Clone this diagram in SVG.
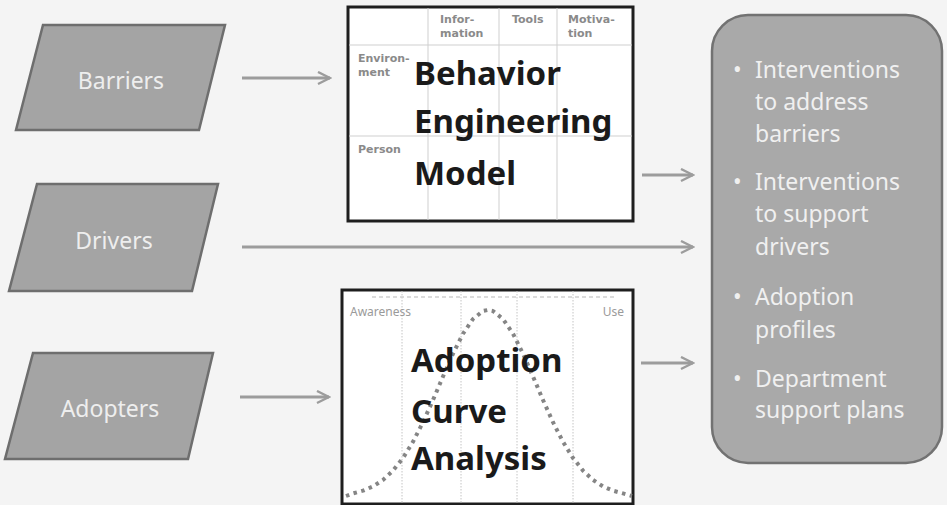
<svg xmlns="http://www.w3.org/2000/svg" width="947" height="505" viewBox="0 0 947 505">
<defs>
<style>
.para{fill:#a4a4a4;stroke:#6e6e6e;stroke-width:2.5}
.lbl{font-family:"Noto Sans","Liberation Sans",sans-serif;font-size:23px;fill:#eeeeee;text-anchor:middle}
.box{fill:#ffffff;stroke:#1e1e1e;stroke-width:3}
.grid{stroke:#cfcfcf;stroke-width:1;fill:none}
.vdot{stroke:#c4c4c4;stroke-width:1;stroke-dasharray:1.5 1.5;fill:none}
.hdr{font-family:"DejaVu Sans",Verdana,sans-serif;font-size:11px;font-weight:bold;fill:#8a8a8a}
.big{font-family:"Noto Sans","Liberation Sans",sans-serif;font-size:33px;font-weight:bold;fill:#1a1a1a}
.sm{font-family:"Noto Sans","Liberation Sans",sans-serif;font-size:12px;fill:#9a9a9a}
.curve{fill:none;stroke:#858585;stroke-width:4;stroke-dasharray:3.5 4.5}
.out{fill:#a9a9a9;stroke:#727272;stroke-width:2.5}
.btxt{font-family:"Noto Sans","Liberation Sans",sans-serif;font-size:23px;fill:#f0f0f0}
.arr{stroke:#9c9c9c;stroke-width:3;fill:none;marker-end:url(#ah)}
</style>
<marker id="ah" viewBox="0 0 10 10" refX="9" refY="5" markerWidth="5" markerHeight="5" markerUnits="strokeWidth" orient="auto">
<path d="M1,1 L9,5 L1,9" fill="none" stroke="#9c9c9c" stroke-width="1.6"/>
</marker>
</defs>
<rect width="947" height="505" fill="#f4f4f4"/>

<g id="barriers">
<polygon class="para" points="43,25 225,25 199,130 16,130"/>
<text class="lbl" x="121" y="89">Barriers</text>
</g>
<g id="drivers">
<polygon class="para" points="37,184 218,184 192,291 9,291"/>
<text class="lbl" x="114" y="249">Drivers</text>
</g>
<g id="adopters">
<polygon class="para" points="33,353 213,353 188,459 5,459"/>
<text class="lbl" x="110" y="417">Adopters</text>
</g>

<g id="bem">
<rect class="box" x="348" y="7" width="285" height="214"/>
<path class="grid" d="M428,8 V220 M499,8 V220 M557,8 V220 M349,45 H632 M349,136 H632"/>
<text class="hdr" x="440" y="23">Infor-</text>
<text class="hdr" x="440" y="37">mation</text>
<text class="hdr" x="512" y="23">Tools</text>
<text class="hdr" x="568" y="23">Motiva-</text>
<text class="hdr" x="568" y="37">tion</text>
<text class="hdr" x="358" y="62">Environ-</text>
<text class="hdr" x="358" y="76">ment</text>
<text class="hdr" x="358" y="153">Person</text>
<text class="big" x="414" y="85">Behavior</text>
<text class="big" x="414" y="133">Engineering</text>
<text class="big" x="414" y="185">Model</text>
</g>

<g id="adoption">
<rect class="box" x="342" y="290" width="291" height="214"/>
<path class="vdot" d="M402,291 V503 M461,291 V503 M517,291 V503 M573,291 V503"/>
<path d="M372,297 H617" stroke="#d0d0d0" stroke-width="1.5" stroke-dasharray="4 3" fill="none"/>
<text class="sm" x="350" y="316">Awareness</text>
<text class="sm" x="624" y="316" text-anchor="end">Use</text>
<polyline class="curve" points="346,496 353,493.4 363,490.7 373,486.4 383,479.9 393,470.6 403,458 413,441.8 423,422.2 433,400 443,376.5 453,353.7 463,333.7 473,319 483,311 488,310 493,311 503,319 513,333.7 523,353.7 533,376.5 543,400 553,422.2 563,441.8 573,458 583,470.6 593,479.9 603,486.4 613,490.7 623,493.4 632,496"/>
<text class="big" x="411" y="372">Adoption</text>
<text class="big" x="411" y="423">Curve</text>
<text class="big" x="411" y="470">Analysis</text>
</g>

<g id="outcomes">
<rect class="out" x="712" y="15" width="230" height="448" rx="36" ry="36"/>
<text class="btxt" x="733" y="78">•</text>
<text class="btxt" x="755" y="78">Interventions</text>
<text class="btxt" x="755" y="110">to address</text>
<text class="btxt" x="755" y="142">barriers</text>
<text class="btxt" x="733" y="190">•</text>
<text class="btxt" x="755" y="190">Interventions</text>
<text class="btxt" x="755" y="222">to support</text>
<text class="btxt" x="755" y="255">drivers</text>
<text class="btxt" x="733" y="305">•</text>
<text class="btxt" x="755" y="305">Adoption</text>
<text class="btxt" x="755" y="338">profiles</text>
<text class="btxt" x="733" y="387">•</text>
<text class="btxt" x="755" y="387">Department</text>
<text class="btxt" x="755" y="418">support plans</text>
</g>

<g id="connectors">
<line class="arr" x1="242" y1="78" x2="330" y2="78"/>
<line class="arr" x1="242" y1="247" x2="693" y2="247"/>
<line class="arr" x1="240" y1="397" x2="329" y2="397"/>
<line class="arr" x1="642" y1="175" x2="693" y2="175"/>
<line class="arr" x1="641" y1="363" x2="693" y2="363"/>
</g>
</svg>
